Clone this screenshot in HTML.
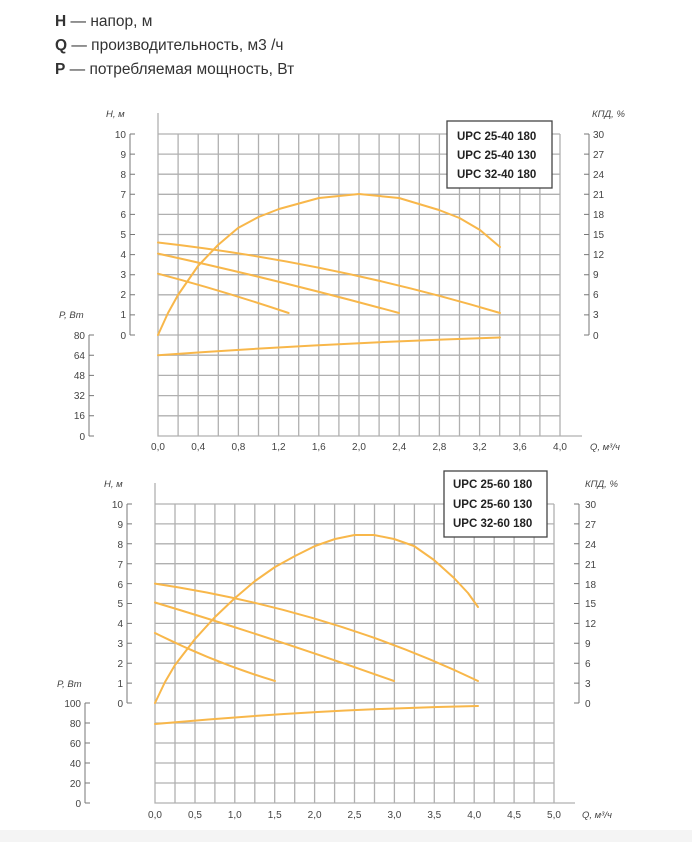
<!DOCTYPE html>
<html><head><meta charset="utf-8"><style>
body{margin:0;background:#fff;width:692px;height:842px;overflow:hidden;font-family:"Liberation Sans",sans-serif}
svg text{font-family:"Liberation Sans",sans-serif}
</style></head><body>
<svg width="692" height="842" viewBox="0 0 692 842" xmlns="http://www.w3.org/2000/svg">
<g font-size="15.5" fill="#333">
<text x="55" y="26"><tspan font-weight="bold">H</tspan> — напор, м</text>
<text x="55" y="50"><tspan font-weight="bold">Q</tspan> — производительность, м3 /ч</text>
<text x="55" y="74"><tspan font-weight="bold">P</tspan> — потребляемая мощность, Вт</text>
</g>

<!-- CHART 1 -->
<g stroke="#b0b0b0" stroke-width="1.3" fill="none">
<path d="M158,134H560M158,154.1H560M158,174.2H560M158,194.3H560M158,214.4H560M158,234.5H560M158,254.6H560M158,274.7H560M158,294.8H560M158,314.9H560M158,335H560M158,355.2H560M158,375.4H560M158,395.6H560M158,415.8H560"/>
<path d="M178.1,134V436M198.2,134V436M218.3,134V436M238.4,134V436M258.5,134V436M278.6,134V436M298.7,134V436M318.8,134V436M338.9,134V436M359,134V436M379.1,134V436M399.2,134V436M419.3,134V436M439.4,134V436M459.5,134V436M479.6,134V436M499.7,134V436M519.8,134V436M539.9,134V436M560,134V436"/>
<path d="M158,113V436H582"/>
</g>
<g stroke="#777" stroke-width="1" fill="none">
<path d="M130,134V335M130,134h5M130,154.1h5M130,174.2h5M130,194.3h5M130,214.4h5M130,234.5h5M130,254.6h5M130,274.7h5M130,294.8h5M130,314.9h5M130,335h5"/>
<path d="M89,335V436M89,335h5M89,355.2h5M89,375.4h5M89,395.6h5M89,415.8h5M89,436h5"/>
<path d="M589,134V335M589,134h-5M589,154.1h-5M589,174.2h-5M589,194.3h-5M589,214.4h-5M589,234.5h-5M589,254.6h-5M589,274.7h-5M589,294.8h-5M589,314.9h-5M589,335h-5"/>
</g>
<g font-size="10" fill="#444" text-anchor="end">
<text x="126" y="138">10</text><text x="126" y="158">9</text><text x="126" y="178">8</text><text x="126" y="198">7</text><text x="126" y="218">6</text><text x="126" y="238">5</text><text x="126" y="258">4</text><text x="126" y="278">3</text><text x="126" y="298">2</text><text x="126" y="318">1</text><text x="126" y="339">0</text>
<text x="85" y="339">80</text><text x="85" y="359">64</text><text x="85" y="379">48</text><text x="85" y="399">32</text><text x="85" y="419">16</text><text x="85" y="440">0</text>
</g>
<g font-size="10" fill="#444">
<text x="593" y="138">30</text><text x="593" y="158">27</text><text x="593" y="178">24</text><text x="593" y="198">21</text><text x="593" y="218">18</text><text x="593" y="238">15</text><text x="593" y="258">12</text><text x="593" y="278">9</text><text x="593" y="298">6</text><text x="593" y="318">3</text><text x="593" y="339">0</text>
</g>
<g font-size="10" fill="#444" text-anchor="middle">
<text x="158" y="450">0,0</text><text x="198.2" y="450">0,4</text><text x="238.4" y="450">0,8</text><text x="278.6" y="450">1,2</text><text x="318.8" y="450">1,6</text><text x="359" y="450">2,0</text><text x="399.2" y="450">2,4</text><text x="439.4" y="450">2,8</text><text x="479.6" y="450">3,2</text><text x="519.8" y="450">3,6</text><text x="560" y="450">4,0</text>
</g>
<g font-size="9.5" fill="#444" font-style="italic">
<text x="106" y="117">H, м</text><text x="59" y="318">P, Вт</text><text x="592" y="117">КПД, %</text><text x="590" y="450">Q, м³/ч</text>
</g>
<g stroke="#f8b74a" stroke-width="2" fill="none" stroke-linejoin="round" stroke-linecap="round">
<polyline points="158,335 168,313 178,295 198,266 218,245 238,228 258.5,217 279,209 319,198 359,194 399,198 439,210 459.5,218 480,230 500,247"/>
<path d="M158,242.5Q330,262 500,313"/>
<path d="M158,253.6Q270,278 399,313"/>
<path d="M158,273.7Q220,290 288.6,313"/>
<path d="M158,355.2Q330,343 500,337.5"/>
</g>
<rect x="447" y="121" width="105" height="67" fill="#fff" stroke="#444" stroke-width="1.3"/>
<g font-size="11.5" font-weight="bold" fill="#222">
<text x="457" y="140">UPC 25-40 180</text><text x="457" y="159">UPC 25-40 130</text><text x="457" y="178">UPC 32-40 180</text>
</g>

<!-- CHART 2 -->
<g stroke="#b0b0b0" stroke-width="1.3" fill="none">
<path d="M155,504H554M155,523.9H554M155,543.8H554M155,563.7H554M155,583.6H554M155,603.5H554M155,623.4H554M155,643.3H554M155,663.2H554M155,683.1H554M155,703H554M155,723H554M155,743H554M155,763H554M155,783H554"/>
<path d="M175,504V803M195,504V803M214.9,504V803M234.8,504V803M254.8,504V803M274.7,504V803M294.7,504V803M314.6,504V803M334.6,504V803M354.5,504V803M374.5,504V803M394.4,504V803M414.4,504V803M434.3,504V803M454.3,504V803M474.2,504V803M494.2,504V803M514.1,504V803M534.1,504V803M554,504V803"/>
<path d="M155,483V803H575"/>
</g>
<g stroke="#777" stroke-width="1" fill="none">
<path d="M127,504V703M127,504h5M127,523.9h5M127,543.8h5M127,563.7h5M127,583.6h5M127,603.5h5M127,623.4h5M127,643.3h5M127,663.2h5M127,683.1h5M127,703h5"/>
<path d="M85,703V803M85,703h5M85,723h5M85,743h5M85,763h5M85,783h5M85,803h5"/>
<path d="M579,504V703M579,504h-5M579,523.9h-5M579,543.8h-5M579,563.7h-5M579,583.6h-5M579,603.5h-5M579,623.4h-5M579,643.3h-5M579,663.2h-5M579,683.1h-5M579,703h-5"/>
</g>
<g font-size="10" fill="#444" text-anchor="end">
<text x="123" y="508">10</text><text x="123" y="528">9</text><text x="123" y="548">8</text><text x="123" y="568">7</text><text x="123" y="588">6</text><text x="123" y="607">5</text><text x="123" y="627">4</text><text x="123" y="647">3</text><text x="123" y="667">2</text><text x="123" y="687">1</text><text x="123" y="707">0</text>
<text x="81" y="707">100</text><text x="81" y="727">80</text><text x="81" y="747">60</text><text x="81" y="767">40</text><text x="81" y="787">20</text><text x="81" y="807">0</text>
</g>
<g font-size="10" fill="#444">
<text x="585" y="508">30</text><text x="585" y="528">27</text><text x="585" y="548">24</text><text x="585" y="568">21</text><text x="585" y="588">18</text><text x="585" y="607">15</text><text x="585" y="627">12</text><text x="585" y="647">9</text><text x="585" y="667">6</text><text x="585" y="687">3</text><text x="585" y="707">0</text>
</g>
<g font-size="10" fill="#444" text-anchor="middle">
<text x="155" y="818">0,0</text><text x="195" y="818">0,5</text><text x="234.8" y="818">1,0</text><text x="274.7" y="818">1,5</text><text x="314.6" y="818">2,0</text><text x="354.5" y="818">2,5</text><text x="394.4" y="818">3,0</text><text x="434.3" y="818">3,5</text><text x="474.2" y="818">4,0</text><text x="514.1" y="818">4,5</text><text x="554" y="818">5,0</text>
</g>
<g font-size="9.5" fill="#444" font-style="italic">
<text x="104" y="487">H, м</text><text x="57" y="687">P, Вт</text><text x="585" y="487">КПД, %</text><text x="582" y="818">Q, м³/ч</text>
</g>
<g stroke="#f8b74a" stroke-width="2" fill="none" stroke-linejoin="round" stroke-linecap="round">
<polyline points="155,703 165,682 175,665 195,639 215,617 235,598 255,581 275,567 295,556 315,546 335,539 354.5,535 374,535 394,539 414,546 434,560 454,578 468,593 478,607"/>
<path d="M155,583.6Q330,610 478,681"/>
<path d="M155,602.5Q270,637 394,681"/>
<path d="M155,633Q215,663 275,681"/>
<path d="M155,724Q320,709 478,706"/>
</g>
<rect x="444" y="471" width="103" height="66" fill="#fff" stroke="#444" stroke-width="1.3"/>
<g font-size="11.5" font-weight="bold" fill="#222">
<text x="453" y="488">UPC 25-60 180</text><text x="453" y="508">UPC 25-60 130</text><text x="453" y="527">UPC 32-60 180</text>
</g>
<rect x="0" y="830" width="692" height="12" fill="#f4f4f4"/>
</svg>
</body></html>
